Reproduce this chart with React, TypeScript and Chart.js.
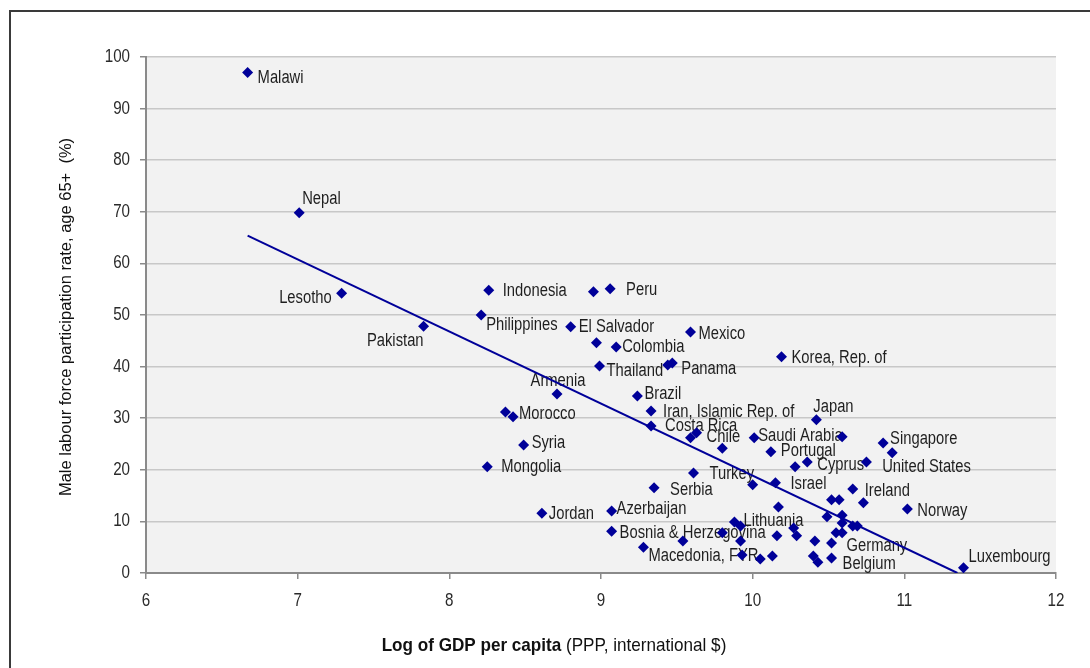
import React, { useEffect, useRef } from "react";
import { Chart, registerables } from "chart.js";

Chart.register(...registerables);

// ---- Data ----
const countries: string[] = [
  "Malawi", "Nepal", "Lesotho", "Pakistan", "Philippines", "Indonesia", "", "Morocco", "Syria", "Mongolia",
  "Jordan", "Armenia", "El Salvador", "", "Peru", "", "Colombia", "Thailand", "Mexico", "",
  "Panama", "Korea, Rep. of", "Brazil", "Iran, Islamic Rep. of", "Costa Rica", "", "Chile", "", "Saudi Arabia", "",
  "Japan", "Portugal", "", "Cyprus", "", "Singapore", "United States", "Turkey", "", "Israel",
  "Ireland", "", "", "", "Serbia", "Azerbaijan", "", "", "", "",
  "", "", "Lithuania", "", "", "", "", "", "", "Bosnia & Herzegovina",
  "", "Macedonia, FYR", "", "", "", "", "Germany", "", "", "",
  "", "Belgium", "Norway", "Luxembourg",
];

const logGdp: number[] = [
  6.67, 7.01, 7.29, 7.83, 8.21, 8.26, 8.37, 8.42, 8.49, 8.25,
  8.61, 8.71, 8.80, 8.95, 9.06, 8.97, 9.10, 8.99, 9.59, 9.44,
  9.47, 10.19, 9.24, 9.33, 9.33, 9.59, 9.63, 9.80, 10.01, 10.59,
  10.42, 10.12, 10.28, 10.36, 10.75, 10.86, 10.92, 9.61, 10.0, 10.15,
  10.66, 10.52, 10.57, 10.73, 9.35, 9.07, 10.17, 10.49, 10.59, 10.59,
  10.66, 10.69, 9.88, 9.92, 10.27, 10.29, 10.16, 9.92, 9.80, 9.07,
  9.54, 9.28, 9.93, 10.05, 10.13, 10.41, 10.52, 10.55, 10.59, 10.40,
  10.43, 10.52, 11.02, 11.39,
];

const participation: number[] = [
  97.0, 69.8, 54.2, 47.8, 50.0, 54.8, 31.2, 30.3, 24.8, 20.6,
  11.6, 34.7, 47.7, 54.5, 55.1, 44.6, 43.8, 40.1, 46.7, 40.3,
  40.7, 41.9, 34.3, 31.4, 28.5, 26.2, 27.2, 24.2, 26.2, 26.4,
  29.7, 23.5, 20.6, 21.5, 21.5, 25.2, 23.3, 19.4, 17.1, 17.5,
  16.3, 14.2, 14.2, 13.6, 16.5, 12.0, 12.8, 10.9, 11.2, 9.7,
  9.1, 9.1, 9.9, 9.1, 8.7, 7.2, 7.2, 6.2, 7.8, 8.1,
  6.2, 5.0, 3.5, 2.7, 3.3, 6.2, 5.8, 7.8, 7.8, 3.3,
  2.1, 2.9, 12.4, 1.0,
];

const trendX: number[] = [6.67, 11.35];
const trendY: number[] = [65.4, 0];

const xTicks: number[] = [6, 7, 8, 9, 10, 11, 12];
const yTicks: number[] = [0, 10, 20, 30, 40, 50, 60, 70, 80, 90, 100];

const yTitle = "Male labour force participation rate, age 65+  (%)";
const xTitleBold = "Log of GDP per capita";
const xTitleRest = " (PPP, international $)";

// ---- Label placement (pixel offsets from the marker, style only) ----
const labelPlacement: Record<string, [number, number, CanvasTextAlign]> = {
  "Malawi": [10, 6, "left"],
  "Nepal": [3, -14, "left"],
  "Lesotho": [-10, 5, "right"],
  "Pakistan": [0, 15, "right"],
  "Indonesia": [14, 1, "left"],
  "Philippines": [5, 10, "left"],
  "Peru": [16, 1, "left"],
  "El Salvador": [8, 0, "left"],
  "Colombia": [6, 0, "left"],
  "Mexico": [8, 2, "left"],
  "Thailand": [7, 5, "left"],
  "Panama": [9, 6, "left"],
  "Korea, Rep. of": [10, 1, "left"],
  "Armenia": [1, -13, "center"],
  "Brazil": [7, -2, "left"],
  "Morocco": [6, -3, "left"],
  "Iran, Islamic Rep. of": [12, 1, "left"],
  "Costa Rica": [14, 0, "left"],
  "Chile": [10, 4, "left"],
  "Syria": [8, -2, "left"],
  "Mongolia": [14, 0, "left"],
  "Japan": [-3, -13, "left"],
  "Saudi Arabia": [4, -2, "left"],
  "Portugal": [10, -1, "left"],
  "Cyprus": [10, 3, "left"],
  "Singapore": [7, -4, "left"],
  "United States": [-10, 14, "left"],
  "Turkey": [16, 1, "left"],
  "Israel": [15, 1, "left"],
  "Ireland": [12, 2, "left"],
  "Serbia": [16, 2, "left"],
  "Norway": [10, 2, "left"],
  "Azerbaijan": [5, -2, "left"],
  "Jordan": [7, 1, "left"],
  "Lithuania": [9, -1, "left"],
  "Bosnia & Herzegovina": [8, 2, "left"],
  "Macedonia, FYR": [5, 9, "left"],
  "Germany": [15, 3, "left"],
  "Belgium": [11, 6, "left"],
  "Luxembourg": [5, -11, "left"],
};

const SANS = '"Liberation Sans", Arial, sans-serif';
const NARROW_SCALE = 0.82;
const MARK = "#000099";

function narrowText(
  ctx: CanvasRenderingContext2D,
  text: string,
  x: number,
  y: number,
  align: CanvasTextAlign,
  size: number,
  bold = false,
  baseline: CanvasTextBaseline = "middle",
  scale = NARROW_SCALE
) {
  ctx.save();
  ctx.translate(x, y);
  ctx.scale(scale, 1);
  ctx.font = `${bold ? "bold " : ""}${size}px ${SANS}`;
  ctx.textAlign = align;
  ctx.textBaseline = baseline;
  ctx.fillText(text, 0, 0);
  ctx.restore();
}

function narrowWidth(ctx: CanvasRenderingContext2D, text: string, size: number, bold = false, scale = NARROW_SCALE) {
  ctx.save();
  ctx.font = `${bold ? "bold " : ""}${size}px ${SANS}`;
  const w = ctx.measureText(text).width * scale;
  ctx.restore();
  return w;
}

const decorPlugin = {
  id: "decor",
  beforeDraw(chart: any) {
    const { ctx, chartArea } = chart;
    ctx.save();
    ctx.fillStyle = "#ffffff";
    ctx.fillRect(0, 0, chart.width, chart.height);
    ctx.strokeStyle = "#3a3a3a";
    ctx.lineWidth = 2;
    ctx.strokeRect(10, 11, chart.width + 20, chart.height + 20);
    ctx.fillStyle = "#f2f2f2";
    ctx.fillRect(chartArea.left, chartArea.top, chartArea.right - chartArea.left, chartArea.bottom - chartArea.top);
    ctx.restore();
  },
  beforeDatasetsDraw(chart: any) {
    const { ctx } = chart;
    const xs = chart.scales.x;
    const ys = chart.scales.y;
    ctx.save();
    ctx.fillStyle = "#1f1f1f";
    countries.forEach((name, i) => {
      if (!name) return;
      const p = labelPlacement[name] || [8, 0, "left"];
      const px = xs.getPixelForValue(logGdp[i]);
      const py = ys.getPixelForValue(participation[i]);
      narrowText(ctx, name, px + p[0], py + p[1], p[2], 18);
    });
    ctx.restore();
  },
  afterDraw(chart: any) {
    const { ctx } = chart;
    const xs = chart.scales.x;
    const ys = chart.scales.y;

    // tick labels
    ctx.save();
    ctx.fillStyle = "#2a2a2a";
    yTicks.forEach((v) => {
      narrowText(ctx, String(v), 130, ys.getPixelForValue(v), "right", 18.5);
    });
    xTicks.forEach((v) => {
      narrowText(ctx, String(v), xs.getPixelForValue(v), 601, "center", 18.5);
    });
    ctx.restore();

    // y title
    ctx.save();
    ctx.translate(66, 317);
    ctx.rotate(-Math.PI / 2);
    ctx.font = `16.5px ${SANS}`;
    ctx.fillStyle = "#111111";
    ctx.textAlign = "center";
    ctx.textBaseline = "middle";
    ctx.fillText(yTitle, 0, 0);
    ctx.restore();

    // x title (mixed weights)
    ctx.save();
    ctx.fillStyle = "#111111";
    const ts = 0.9;
    const w1 = narrowWidth(ctx, xTitleBold, 19, true, ts);
    const w2 = narrowWidth(ctx, xTitleRest, 19, false, ts);
    const startX = 554 - (w1 + w2) / 2;
    narrowText(ctx, xTitleBold, startX, 651, "left", 19, true, "alphabetic", ts);
    narrowText(ctx, xTitleRest, startX + w1, 651, "left", 19, false, "alphabetic", ts);
    ctx.restore();
  },
};

export default function App() {
  const canvasRef = useRef<HTMLCanvasElement | null>(null);

  useEffect(() => {
    if (!canvasRef.current) return;
    const points = logGdp.map((x, i) => ({ x, y: participation[i] }));
    const trend = trendX.map((x, i) => ({ x, y: trendY[i] }));
    const chart = new Chart(canvasRef.current, {
      type: "scatter",
      data: {
        datasets: [
          {
            data: points,
            pointStyle: "rectRot",
            pointRadius: 5.5,
            pointHoverRadius: 5.5,
            backgroundColor: MARK,
            borderColor: MARK,
            borderWidth: 0,
          },
          {
            type: "line",
            data: trend,
            borderColor: MARK,
            borderWidth: 2,
            pointRadius: 0,
            showLine: true,
            fill: false,
          },
        ],
      } as any,
      options: {
        responsive: false,
        animation: false,
        events: [],
        layout: { padding: { top: 57, right: 34, left: 0, bottom: 0 } },
        plugins: { legend: { display: false }, tooltip: { enabled: false }, title: { display: false } },
        scales: {
          x: {
            type: "linear",
            min: 6,
            max: 12,
            afterBuildTicks: (s: any) => {
              s.ticks = xTicks.map((v) => ({ value: v }));
            },
            afterFit: (s: any) => {
              s.height = 95;
            },
            ticks: { display: false },
            grid: { drawOnChartArea: false, drawTicks: true, tickLength: 6, color: "#8a8a8a", lineWidth: 1.5 },
            border: { display: true, color: "#8a8a8a", width: 2 },
          },
          y: {
            type: "linear",
            min: 0,
            max: 100,
            afterBuildTicks: (s: any) => {
              s.ticks = yTicks.map((v) => ({ value: v }));
            },
            afterFit: (s: any) => {
              s.width = 146;
            },
            ticks: { display: false },
            grid: { color: "#c8c8c8", lineWidth: 1.5, drawTicks: true, tickLength: 6, tickColor: "#8a8a8a" },
            border: { display: true, color: "#8a8a8a", width: 2 },
          },
        },
      } as any,
      plugins: [decorPlugin],
    });
    return () => chart.destroy();
  }, []);

  return (
    <>
      <style>{`body{margin:0;}`}</style>
      <canvas ref={canvasRef} width={1090} height={668} style={{ display: "block" }} />
    </>
  );
}
